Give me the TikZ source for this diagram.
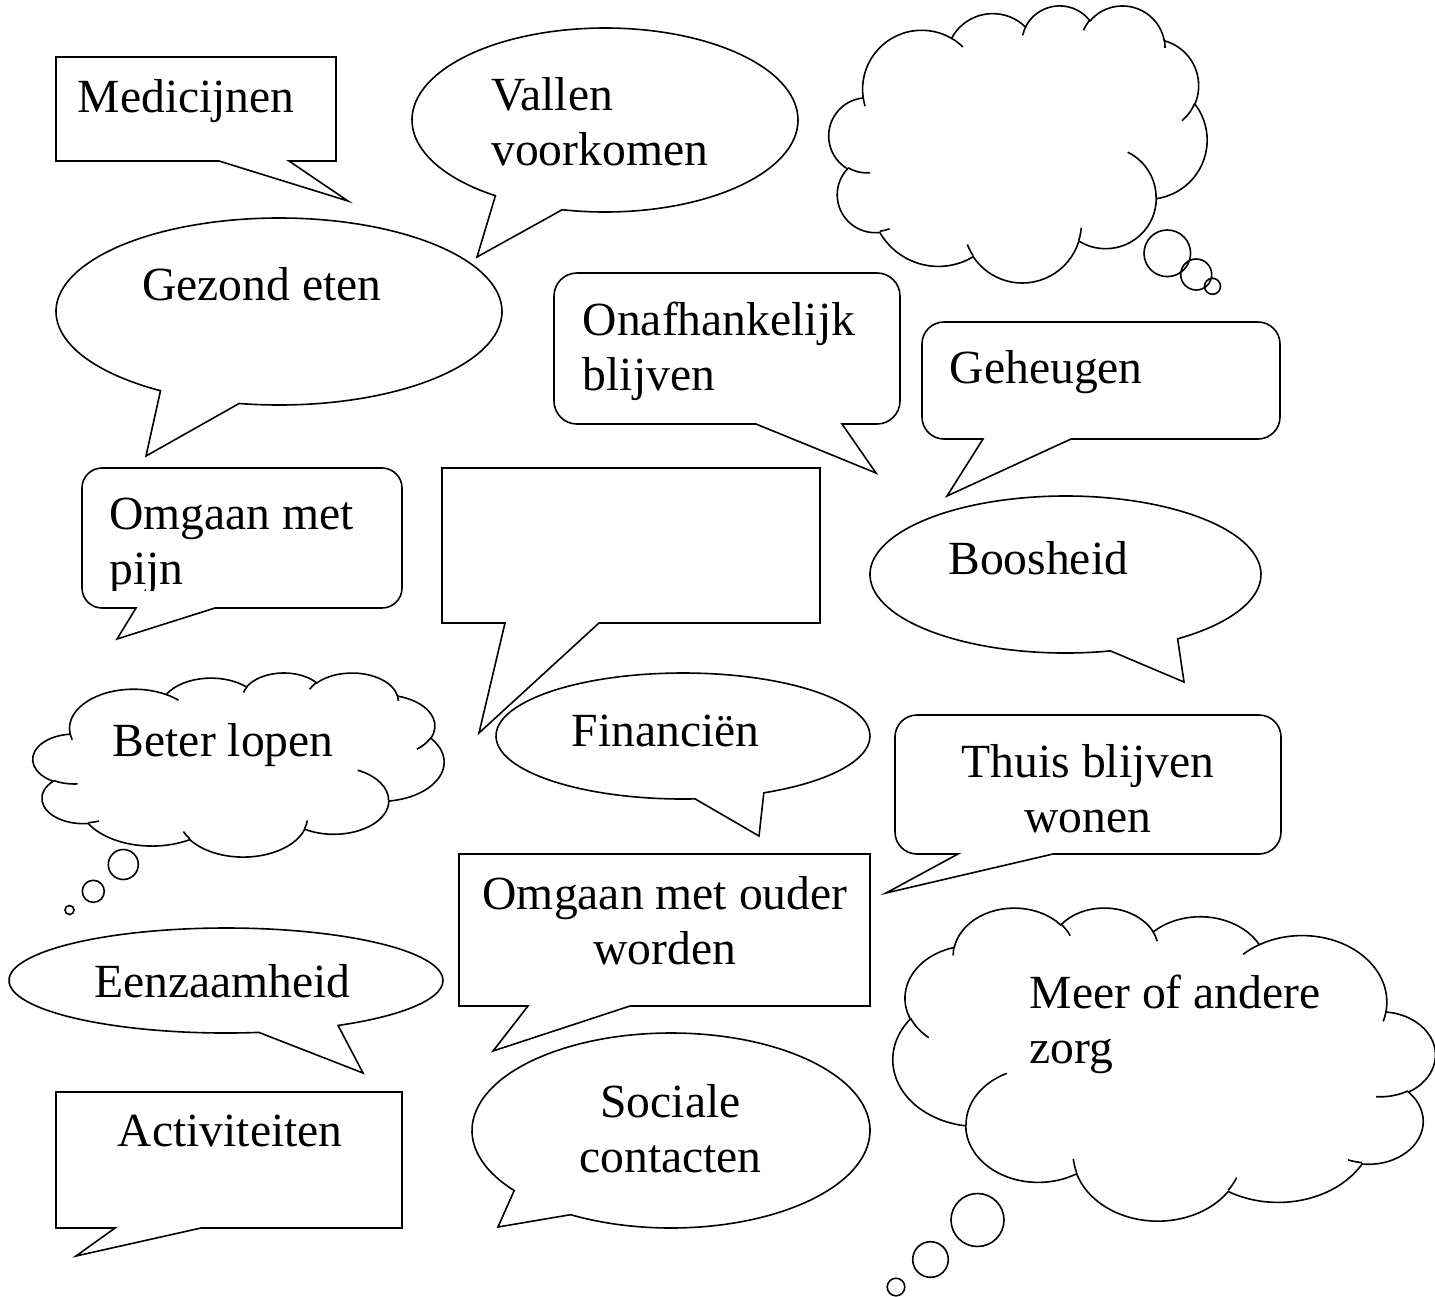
\documentclass[tikz,border=0pt]{standalone}
\usepackage{fontspec}
\setmainfont{Liberation Serif}
\tikzset{
  wolkboog/.style n args={4}{insert path={arc[start angle={atan2((#1)*sin(#3),(#2)*cos(#3))},
    delta angle={mod(atan2((#1)*sin((#3)+(#4)),(#2)*cos((#3)+(#4)))-atan2((#1)*sin(#3),(#2)*cos(#3))+720,360)},
    x radius=#1, y radius=#2]}},
  pics/wolk/.style={code={
    \draw[fill=white] (90.28,332.64) [wolkboog={156.32}{212.73}{-190.4875}{123.7805}]
      [wolkboog={123.45}{168.22}{-144.1024}{89.9452}]
      [wolkboog={101.04}{137.62}{-145.8079}{99.7230}]
      [wolkboog={112.43}{152.66}{-130.9861}{117.2417}]
      [wolkboog={123.45}{168.36}{-78.7089}{109.0269}]
      [wolkboog={156.83}{213.43}{-46.2673}{130.2690}]
      [wolkboog={133.91}{182.11}{0.6250}{114.0333}]
      [wolkboog={156.30}{213.31}{22.4516}{115.1726}]
      [wolkboog={178.70}{244.05}{66.2426}{75.7110}]
      [wolkboog={100.93}{136.99}{-274.9421}{146.7356}]
      [wolkboog={100.58}{137.62}{-246.8285}{152.5189}] -- cycle;
    \draw (108.63,605.95) [wolkboog={100.58}{137.62}{86.742}{26.430}]
      (160.37,807.85) [wolkboog={100.93}{136.99}{73.610}{11.447}]
      (381.44,904.86) [wolkboog={156.30}{213.31}{137.624}{14.081}]
      (667.29,804.42) [wolkboog={156.30}{213.31}{6.453}{15.998}]
      (790.02,531.34) [wolkboog={133.91}{182.11}{-70.292}{70.917}]
      (967.55,355.42) [wolkboog={123.45}{168.36}{30.318}{27.752}]
      (887.13,125.60) [wolkboog={112.43}{152.66}{-13.744}{14.859}]
      (673.10,91.48) [wolkboog={112.43}{152.66}{-149.181}{18.195}]
      (512.52,109.26) [wolkboog={101.04}{137.62}{-163.494}{17.686}]
      (324.07,120.19) [wolkboog={156.32}{212.73}{-66.707}{12.319}]
      (95.53,365.49) [wolkboog={156.32}{212.73}{157.654}{11.858}];
  }},
  bubbel/.style={fill=white},
  tekst/.style={inner sep=0pt, anchor=base west}
}
\begin{document}
\begin{tikzpicture}[x=1pt, y=-1pt, line width=1.6pt, font=\fontsize{47.6}{55.2}\selectfont]
\fill[white, use as bounding box] (0,0) rectangle (1435,1296);
% rechthoeken
\draw[bubbel] (219,161) -- (56,161) -- (56,57) -- (336,57) -- (336,161) -- (289,161) -- (348,201) -- cycle;
\draw[bubbel] (505,623) -- (442,623) -- (442,468) -- (820,468) -- (820,623) -- (599,623) -- (479,733) -- cycle;
\draw[bubbel] (528,1006) -- (459,1006) -- (459,854) -- (870,854) -- (870,1006) -- (630,1006) -- (493,1051) -- cycle;
\draw[bubbel] (115,1228) -- (56,1228) -- (56,1092) -- (402,1092) -- (402,1228) -- (201,1228) -- (76,1256) -- cycle;
% afgeronde rechthoeken
\draw[bubbel] (756,424) -- (577,424) arc[start angle=90, end angle=180, radius=23] -- (554,296) arc[start angle=180, end angle=270, radius=23]
  -- (877,273) arc[start angle=270, end angle=360, radius=23] -- (900,401) arc[start angle=0, end angle=90, radius=23] -- (842,424) -- (876,473) -- cycle;
\draw[bubbel] (983,439) -- (944,439) arc[start angle=90, end angle=180, radius=22] -- (922,344) arc[start angle=180, end angle=270, radius=22]
  -- (1258,322) arc[start angle=270, end angle=360, radius=22] -- (1280,417) arc[start angle=0, end angle=90, radius=22] -- (1071,439) -- (947,496) -- cycle;
\draw[bubbel] (136,608) -- (102,608) arc[start angle=90, end angle=180, radius=20] -- (82,488) arc[start angle=180, end angle=270, radius=20]
  -- (382,468) arc[start angle=270, end angle=360, radius=20] -- (402,588) arc[start angle=0, end angle=90, radius=20] -- (215,608) -- (117,639) -- cycle;
\draw[bubbel] (958,854) -- (917,854) arc[start angle=90, end angle=180, radius=22] -- (895,737) arc[start angle=180, end angle=270, radius=22]
  -- (1259,715) arc[start angle=270, end angle=360, radius=22] -- (1281,832) arc[start angle=0, end angle=90, radius=22] -- (1053,854) -- (886,893) -- cycle;
% ellipsen
\draw[bubbel] ([shift={(124.6:193 and 92)}]605,120) arc[start angle=124.6, delta angle=338.2, x radius=193, y radius=92] -- (477,257) -- cycle;
\draw[bubbel] ([shift={(122.1:223 and 93.5)}]279,311.5) arc[start angle=122.1, delta angle=338.2, x radius=223, y radius=93.5] -- (146,456) -- cycle;
\draw[bubbel] ([shift={(76.7:195.5 and 78.5)}]1065.5,574.5) arc[start angle=76.7, delta angle=338.3, x radius=195.5, y radius=78.5] -- (1184,682) -- cycle;
\draw[bubbel] ([shift={(86.3:187 and 63)}]683,736) arc[start angle=86.3, delta angle=338.1, x radius=187, y radius=63] -- (759,836) -- cycle;
\draw[bubbel] ([shift={(81.3:217 and 52.5)}]226,980.5) arc[start angle=81.3, delta angle=337.6, x radius=217, y radius=52.5] -- (363,1073) -- cycle;
\draw[bubbel] ([shift={(142:199 and 97.5)}]671,1130.5) arc[start angle=142, delta angle=338.3, x radius=199, y radius=97.5] -- (498,1227) -- cycle;
% wolken
\begin{scope}[shift={(829,5)}, x=0.378pt, y=-0.277pt]
  \pic {wolk};
\end{scope}
\draw (1167.3,253.3) circle[radius=23.3] (1196.2,274.5) circle[radius=15.5] (1212.5,286.3) circle[radius=8];
\begin{scope}[shift={(33,672.4)}, x=0.411pt, y=-0.184pt]
  \pic {wolk};
\end{scope}
\draw (123.3,864.5) circle[radius=15] (93.3,891.3) circle[radius=11] (69.5,910) circle[radius=4.5];
\begin{scope}[shift={(1435,907)}, x=-0.542pt, y=-0.313pt]
  \pic {wolk};
\end{scope}
\draw (977.5,1220) circle[radius=26.5] (930.5,1259.5) circle[radius=17.8] (896,1287) circle[radius=8.8];
% teksten
\node[tekst] (medicijnen) at (77,112) {Medicijnen};
\node[tekst] (vallen) at (490.5,110) {\begin{tabular}[t]{@{}l@{}}Vallen\\voorkomen\end{tabular}};
\node[tekst] (gezond) at (141.5,300) {Gezond eten};
\node[tekst] (onafhankelijk) at (582,335) {\begin{tabular}[t]{@{}l@{}}Onafhankelijk\\blijven\end{tabular}};
\node[tekst] (geheugen) at (949,383) {Geheugen};
\begin{scope}
  \clip (82,468) rectangle (402,590);
  \node[tekst] (pijn) at (108.5,529.3) {\begin{tabular}[t]{@{}l@{}}Omgaan met\\pijn\end{tabular}};
\end{scope}
\node[tekst] (boosheid) at (947.5,574.3) {Boosheid};
\node[tekst] (lopen) at (112,756.7) {Beter lopen};
\node[tekst] (financien) at (571,746.7) {Financiën};
\node[tekst, anchor=base] (thuis) at (1088,777) {\begin{tabular}[t]{@{}c@{}}Thuis blijven\\wonen\end{tabular}};
\node[tekst, anchor=base] (ouder) at (665,909) {\begin{tabular}[t]{@{}c@{}}Omgaan met ouder\\worden\end{tabular}};
\node[tekst] (eenzaamheid) at (93.5,997) {Eenzaamheid};
\node[tekst] (activiteiten) at (117,1146) {Activiteiten};
\node[tekst, anchor=base] (sociaal) at (670.5,1117) {\begin{tabular}[t]{@{}c@{}}Sociale\\contacten\end{tabular}};
\node[tekst] (zorg) at (1029,1008) {\begin{tabular}[t]{@{}l@{}}Meer of andere\\zorg\end{tabular}};
\end{tikzpicture}
\end{document}
